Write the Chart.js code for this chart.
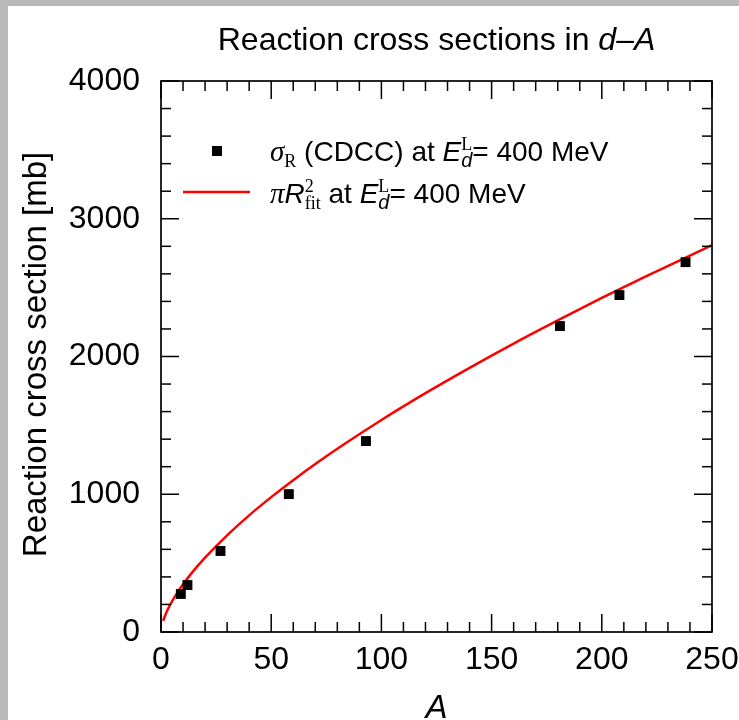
<!DOCTYPE html>
<html>
<head>
<meta charset="utf-8">
<script src="https://cdn.jsdelivr.net/npm/chart.js@4.4.1/dist/chart.umd.min.js"></script>
<style>
html, body { margin: 0; padding: 0; background: #fff; }
canvas { display: block; }
</style>
</head>
<body>
<canvas id="chartReaction" width="739" height="720"></canvas>
<script>
// sigma_R (CDCC) at E = 400 MeV
const massNumbers = [9, 12, 27, 58, 93, 181, 208, 238];
const sigmaCDCC = [276, 341, 588, 1001, 1386, 2221, 2446, 2685];
// pi R_fit^2 curve, sampled by eye
const fitA = [1, 2, 3, 5, 7, 10, 15, 20, 30, 40, 50, 60, 70, 80, 100, 120, 140, 160, 180, 200, 220, 250];
const fitSigma = [81, 125, 161, 222, 275, 346, 449, 540, 702, 847, 979, 1102, 1219, 1330, 1539, 1734, 1918, 2094, 2262, 2425, 2582, 2808];
const xTicks = [0, 50, 100, 150, 200, 250];
const yTicks = [0, 1000, 2000, 3000, 4000];

const FONT = '"Liberation Sans", Arial, sans-serif';
const SERIF = '"Liberation Serif", "DejaVu Serif", serif';

// draws a row of {t, font, dy} pieces starting at x
function drawPieces(ctx, pieces, x, y) {
    pieces.forEach(p => {
        ctx.font = p.font;
        ctx.fillText(p.t, x, y + (p.dy || 0));
        if (!p.noAdvance) x += ctx.measureText(p.t).width;
    });
    return x;
}
function piecesWidth(ctx, pieces) {
    let w = 0;
    pieces.forEach(p => { ctx.font = p.font; if (!p.noAdvance) w += ctx.measureText(p.t).width; });
    return w;
}

const framePlugin = {
    id: 'frame',
    beforeDraw(chart) {
        const ctx = chart.ctx;
        ctx.save();
        ctx.fillStyle = '#fff';
        ctx.fillRect(0, 0, chart.width, chart.height);
        ctx.fillStyle = '#b9b9b9';
        ctx.fillRect(0, 0, 8, chart.height);
        ctx.fillRect(0, 0, chart.width, 6);
        ctx.restore();
    },
    afterDraw(chart) {
        const { ctx, chartArea: a, scales: { x, y } } = chart;
        ctx.save();
        ctx.strokeStyle = '#000';
        ctx.lineWidth = 1.7;
        ctx.strokeRect(a.left, a.top, a.right - a.left, a.bottom - a.top);
        const seg = (x1, y1, x2, y2) => { ctx.beginPath(); ctx.moveTo(x1, y1); ctx.lineTo(x2, y2); ctx.stroke(); };
        ctx.lineWidth = 1.5;
        for (let v = 0; v <= 250; v += 10) {
            const px = x.getPixelForValue(v);
            const len = v % 50 === 0 ? 18 : 10;
            seg(px, a.bottom, px, a.bottom - len);
            seg(px, a.top, px, a.top + len);
        }
        for (let v = 0; v <= 4000; v += 200) {
            const py = y.getPixelForValue(v);
            const len = v % 1000 === 0 ? 18 : 10;
            seg(a.left, py, a.left + len, py);
            seg(a.right, py, a.right - len, py);
        }

        ctx.fillStyle = '#000';
        ctx.textBaseline = 'alphabetic';
        ctx.textAlign = 'left';

        // title
        const title = [
            { t: 'Reaction cross sections in ', font: '32px ' + FONT },
            { t: 'd', font: 'italic 32px ' + FONT },
            { t: '–', font: '32px ' + FONT },
            { t: 'A', font: 'italic 32px ' + FONT }
        ];
        const cx = (a.left + a.right) / 2;
        drawPieces(ctx, title, cx - piecesWidth(ctx, title) / 2, 50);

        // x axis title
        ctx.font = 'italic 33px ' + FONT;
        ctx.textAlign = 'center';
        ctx.fillText('A', cx, 718);

        // y axis title
        ctx.save();
        ctx.translate(46, (a.top + a.bottom) / 2 - 2);
        ctx.rotate(-Math.PI / 2);
        ctx.font = '33px ' + FONT;
        ctx.fillText('Reaction cross section [mb]', 0, 0);
        ctx.restore();
        ctx.textAlign = 'left';

        // legend
        ctx.fillRect(212, 146, 10, 10);
        ctx.strokeStyle = '#ff0000';
        ctx.lineWidth = 2.5;
        seg(183, 192, 250, 192);

        const f = '28px ' + FONT, fi = 'italic 28px ' + FONT;
        const small = '18px ' + SERIF, smallI = 'italic 20px ' + FONT;
        const eL = [
            { t: ' at ', font: f },
            { t: 'E', font: fi },
            { t: 'L', font: small, dy: -11, noAdvance: true },
            { t: 'd', font: smallI, dy: 6 },
            { t: '= 400 MeV', font: f }
        ];
        drawPieces(ctx, [
            { t: 'σ', font: 'italic 29px ' + SERIF },
            { t: 'R', font: small, dy: 6 },
            { t: ' (CDCC)', font: f }
        ].concat(eL), 270, 161);
        drawPieces(ctx, [
            { t: 'π', font: 'italic 29px ' + SERIF },
            { t: 'R', font: fi },
            { t: '2', font: small, dy: -11, noAdvance: true },
            { t: 'fit', font: small, dy: 6 }
        ].concat(eL), 270, 203);
        ctx.restore();
    }
};

new Chart(document.getElementById('chartReaction').getContext('2d'), {
    type: 'scatter',
    data: {
        datasets: [
            {
                label: 'sigmaR CDCC',
                data: massNumbers.map((m, i) => ({ x: m, y: sigmaCDCC[i] })),
                pointStyle: 'rect',
                pointRadius: 7,
                pointHoverRadius: 7,
                backgroundColor: '#000',
                borderColor: '#000',
                borderWidth: 0,
                showLine: false,
                order: 1
            },
            {
                label: 'pi Rfit^2',
                data: fitA.map((m, i) => ({ x: m, y: fitSigma[i] })),
                showLine: true,
                pointRadius: 0,
                borderColor: '#ff0000',
                borderWidth: 2.5,
                cubicInterpolationMode: 'monotone',
                order: 2
            }
        ]
    },
    options: {
        responsive: false,
        animation: false,
        devicePixelRatio: 1,
        layout: { padding: { top: 81, right: 27, left: 0, bottom: 0 } },
        plugins: { legend: { display: false }, tooltip: { enabled: false }, title: { display: false } },
        scales: {
            x: {
                type: 'linear',
                min: 0, max: 250,
                afterFit: s => { s.height = 88; s.paddingLeft = 0; s.paddingRight = 0; },
                afterBuildTicks: s => { s.ticks = xTicks.map(v => ({ value: v })); },
                grid: { display: false, drawTicks: false },
                border: { display: false },
                ticks: { color: '#000', font: { family: FONT, size: 32 }, padding: 9, maxRotation: 0, callback: v => String(v) }
            },
            y: {
                type: 'linear',
                min: 0, max: 4000,
                afterFit: s => { s.width = 161; s.paddingTop = 0; s.paddingBottom = 0; },
                afterBuildTicks: s => { s.ticks = yTicks.map(v => ({ value: v })); },
                grid: { display: false, drawTicks: false },
                border: { display: false },
                ticks: { color: '#000', font: { family: FONT, size: 32 }, padding: 21, callback: v => String(v) }
            }
        }
    },
    plugins: [framePlugin]
});
</script>
</body>
</html>
